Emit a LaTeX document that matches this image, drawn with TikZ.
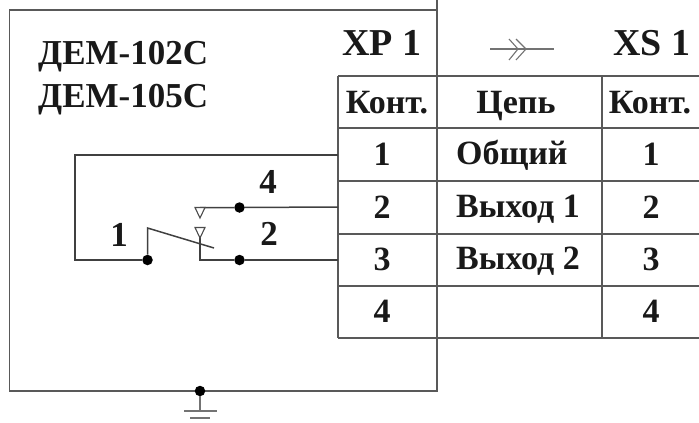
\documentclass[tikz,border=0pt]{standalone}
\usepackage{fontspec}
\setmainfont{Liberation Serif}
\tikzset{
  wire/.style={line width=1.5pt,draw=black!75},
  frameline/.style={line width=1.5pt,draw=black!65},
  thinline/.style={line width=1.1pt,draw=black!55},
  junction/.style={circle,fill=black,inner sep=0pt,minimum size=10.5pt},
  lab/.style={font=\bfseries\fontsize{35}{35}\selectfont,text=black!90,inner sep=0pt},
  biglab/.style={font=\bfseries\fontsize{38}{38}\selectfont,text=black!90,inner sep=0pt},
  cell/.style={font=\bfseries\fontsize{34}{34}\selectfont,text=black!90,inner sep=0pt},
  contact/.style={draw=black!70,line width=1.1pt,fill=white}
}
\begin{document}
\begin{tikzpicture}[x=1pt,y=-1pt]
\useasboundingbox (0,0) rectangle (699,423);
% outer frame
\draw[frameline] (437,0) -- (437,391) -- (9.5,391) -- (9.5,10) -- (437,10);
% table
\draw[frameline] (338,76) -- (699,76);
\draw[frameline] (338,128) -- (699,128);
\draw[frameline] (338,181) -- (699,181);
\draw[frameline] (338,234) -- (699,234);
\draw[frameline] (338,286) -- (699,286);
\draw[frameline] (338,338) -- (699,338);
\draw[frameline] (338,76) -- (338,338);
\draw[frameline] (602,76) -- (602,338);
% coordinates and junctions
\coordinate (tl) at (75,155);
\coordinate (tr) at (338,155);
\coordinate (bl) at (75,260);
\coordinate (r2) at (338,207);
\coordinate (r3) at (338,260);
\node[junction] (d1) at (147.5,260) {};
\node[junction] (d4) at (239.5,207.5) {};
\node[junction] (d2) at (239.5,260) {};
\node[junction] (dg) at (200,391) {};
\coordinate (pivot) at (147.5,228);
\coordinate (levend) at (214,248);
\coordinate (c4) at (200,207.5);
\coordinate (c2) at (200,237);
\coordinate (c2b) at (200,260);
\coordinate (g0) at (200,411);
\coordinate (g1l) at (184,411);
\coordinate (g1r) at (217,411);
\coordinate (g2l) at (190,418);
\coordinate (g2r) at (210,418);
% wiring
\draw[wire] (tr) -- (tl) -- (bl) -- (d1);
\draw[wire] (d1) -- (pivot) -- (levend);
\draw[wire] (c4) -- (d4) -- (r2);
\draw[wire] (c2) -- (c2b) -- (d2) -- (r3);
\draw[contact] (195,207.5) -- (205,207.5) -- (200,218) -- cycle;
\draw[contact,fill=none] (195,227.5) -- (205,227.5) -- (200,238) -- cycle;
% ground
\draw[thinline] (dg) -- (g0);
\draw[thinline] (g1l) -- (g1r);
\draw[thinline] (g2l) -- (g2r);
% connector symbol
\coordinate (a0) at (490,49);
\coordinate (a1) at (554,49);
\draw[thinline] (a0) -- (a1);
\draw[thinline] (509,39) -- (518,49) -- (509,60);
\draw[thinline] (516,39) -- (526,49) -- (516,60);
% labels
\node[lab,anchor=base west] (t1) at (38,64) {ДЕМ-102С};
\node[lab,anchor=base west] (t2) at (38,107) {ДЕМ-105С};
\node[biglab,anchor=base] (xp) at (382,55) {XP 1};
\node[biglab,anchor=base] (xs) at (652,55) {XS 1};
\node[lab,anchor=base] (n4) at (268,193) {4};
\node[lab,anchor=base] (n2) at (269,245) {2};
\node[lab,anchor=base] (n1) at (119,246) {1};
% table text
\node[cell,anchor=base] (h1) at (387,113) {Конт.};
\node[cell,anchor=base] (h2) at (516,113) {Цепь};
\node[cell,anchor=base] (h3) at (650,113) {Конт.};
\node[cell,anchor=base] (a1t) at (382,165) {1};
\node[cell,anchor=base] (a2t) at (382,218) {2};
\node[cell,anchor=base] (a3t) at (382,270) {3};
\node[cell,anchor=base] (a4t) at (382,322) {4};
\node[cell,anchor=base west] (c1t) at (456,164) {Общий};
\node[cell,anchor=base west] (c2t) at (456,217) {Выход 1};
\node[cell,anchor=base west] (c3t) at (456,269) {Выход 2};
\node[cell,anchor=base] (b1t) at (651,165) {1};
\node[cell,anchor=base] (b2t) at (651,218) {2};
\node[cell,anchor=base] (b3t) at (651,270) {3};
\node[cell,anchor=base] (b4t) at (651,322) {4};
\end{tikzpicture}
\end{document}
